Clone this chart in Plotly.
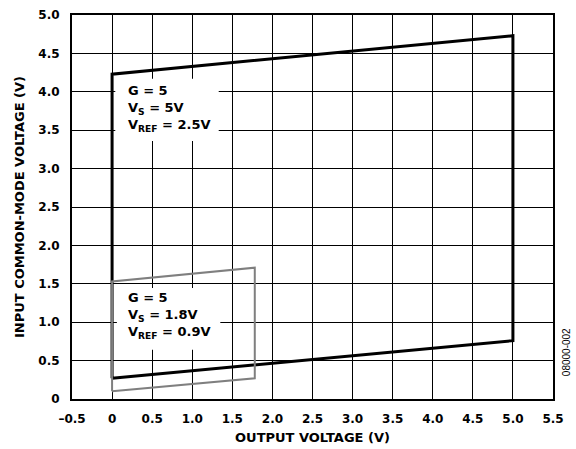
import plotly.graph_objects as go

# Data
vs5_x = [0, 5.0, 5.0, 0, 0]
vs5_y = [0.27, 0.76, 4.73, 4.23, 0.27]
vs18_x = [0, 1.78, 1.78, 0, 0]
vs18_y = [0.10, 0.27, 1.71, 1.53, 0.10]

x_ticks = [-0.5, 0, 0.5, 1.0, 1.5, 2.0, 2.5, 3.0, 3.5, 4.0, 4.5, 5.0, 5.5]
x_labels = ["–0.5", "0", "0.5", "1.0", "1.5", "2.0", "2.5", "3.0", "3.5", "4.0", "4.5", "5.0", "5.5"]
y_ticks = [0, 0.5, 1.0, 1.5, 2.0, 2.5, 3.0, 3.5, 4.0, 4.5, 5.0]
y_labels = ["0", "0.5", "1.0", "1.5", "2.0", "2.5", "3.0", "3.5", "4.0", "4.5", "5.0"]

FONT = "DejaVu Sans, sans-serif"

fig = go.Figure()
fig.add_trace(go.Scatter(x=vs5_x, y=vs5_y, mode="lines",
                         line=dict(color="black", width=3), showlegend=False, hoverinfo="skip"))
fig.add_trace(go.Scatter(x=vs18_x, y=vs18_y, mode="lines",
                         line=dict(color="#7f7f7f", width=2), showlegend=False, hoverinfo="skip"))

# white label boxes (between grid and traces)
fig.add_shape(type="rect", x0=0.04, x1=1.33, y0=3.36, y1=4.17, layer="between",
              fillcolor="white", line=dict(width=0))
fig.add_shape(type="rect", x0=0.06, x1=1.35, y0=0.64, y1=1.445, layer="between",
              fillcolor="white", line=dict(width=0))

fig.add_annotation(x=0.17, y=4.14, xref="x", yref="y", xanchor="left", yanchor="top",
                   align="left", showarrow=False,
                   text="<b>G = 5<br>V<sub>S</sub> = 5V<br>V<sub>REF</sub> = 2.5V</b>",
                   font=dict(family=FONT, size=13, color="black"))
fig.add_annotation(x=0.17, y=1.445, xref="x", yref="y", xanchor="left", yanchor="top",
                   align="left", showarrow=False,
                   text="<b>G = 5<br>V<sub>S</sub> = 1.8V<br>V<sub>REF</sub> = 0.9V</b>",
                   font=dict(family=FONT, size=13, color="black"))

fig.add_annotation(x=1.0, y=0.122, xref="paper", yref="paper", xanchor="center", yanchor="middle",
                   xshift=13, showarrow=False, textangle=-90, text="08000-002",
                   font=dict(family="Liberation Sans, Arial, sans-serif", size=10, color="black"))

bold = lambda labels: ["<b>%s</b>" % s for s in labels]

fig.update_xaxes(range=[-0.5, 5.5], tickvals=x_ticks, ticktext=bold(x_labels),
                 showgrid=True, gridcolor="black", gridwidth=1,
                 showline=True, linecolor="black", linewidth=2, mirror=True,
                 ticks="", zeroline=False, automargin=False, ticklabelstandoff=8,
                 tickfont=dict(family=FONT, size=12, color="black"),
                 title=dict(text="<b>OUTPUT VOLTAGE (V)</b>", standoff=7,
                            font=dict(family=FONT, size=13, color="black")))
fig.update_yaxes(range=[0, 5.0], tickvals=y_ticks, ticktext=bold(y_labels),
                 showgrid=True, gridcolor="black", gridwidth=1,
                 showline=True, linecolor="black", linewidth=2, mirror=True,
                 ticks="", zeroline=False, automargin=False, ticklabelstandoff=8,
                 tickfont=dict(family=FONT, size=12, color="black"),
                 title=dict(text="<b>INPUT COMMON-MODE VOLTAGE (V)</b>", standoff=11,
                            font=dict(family=FONT, size=13, color="black")))

fig.update_layout(width=576, height=449, plot_bgcolor="white", paper_bgcolor="white",
                  margin=dict(l=72, r=23, t=15, b=50), showlegend=False, hovermode=False)

fig.write_html("out.html", config={"displayModeBar": False, "staticPlot": True},
               post_script="document.body.style.margin='0';")
